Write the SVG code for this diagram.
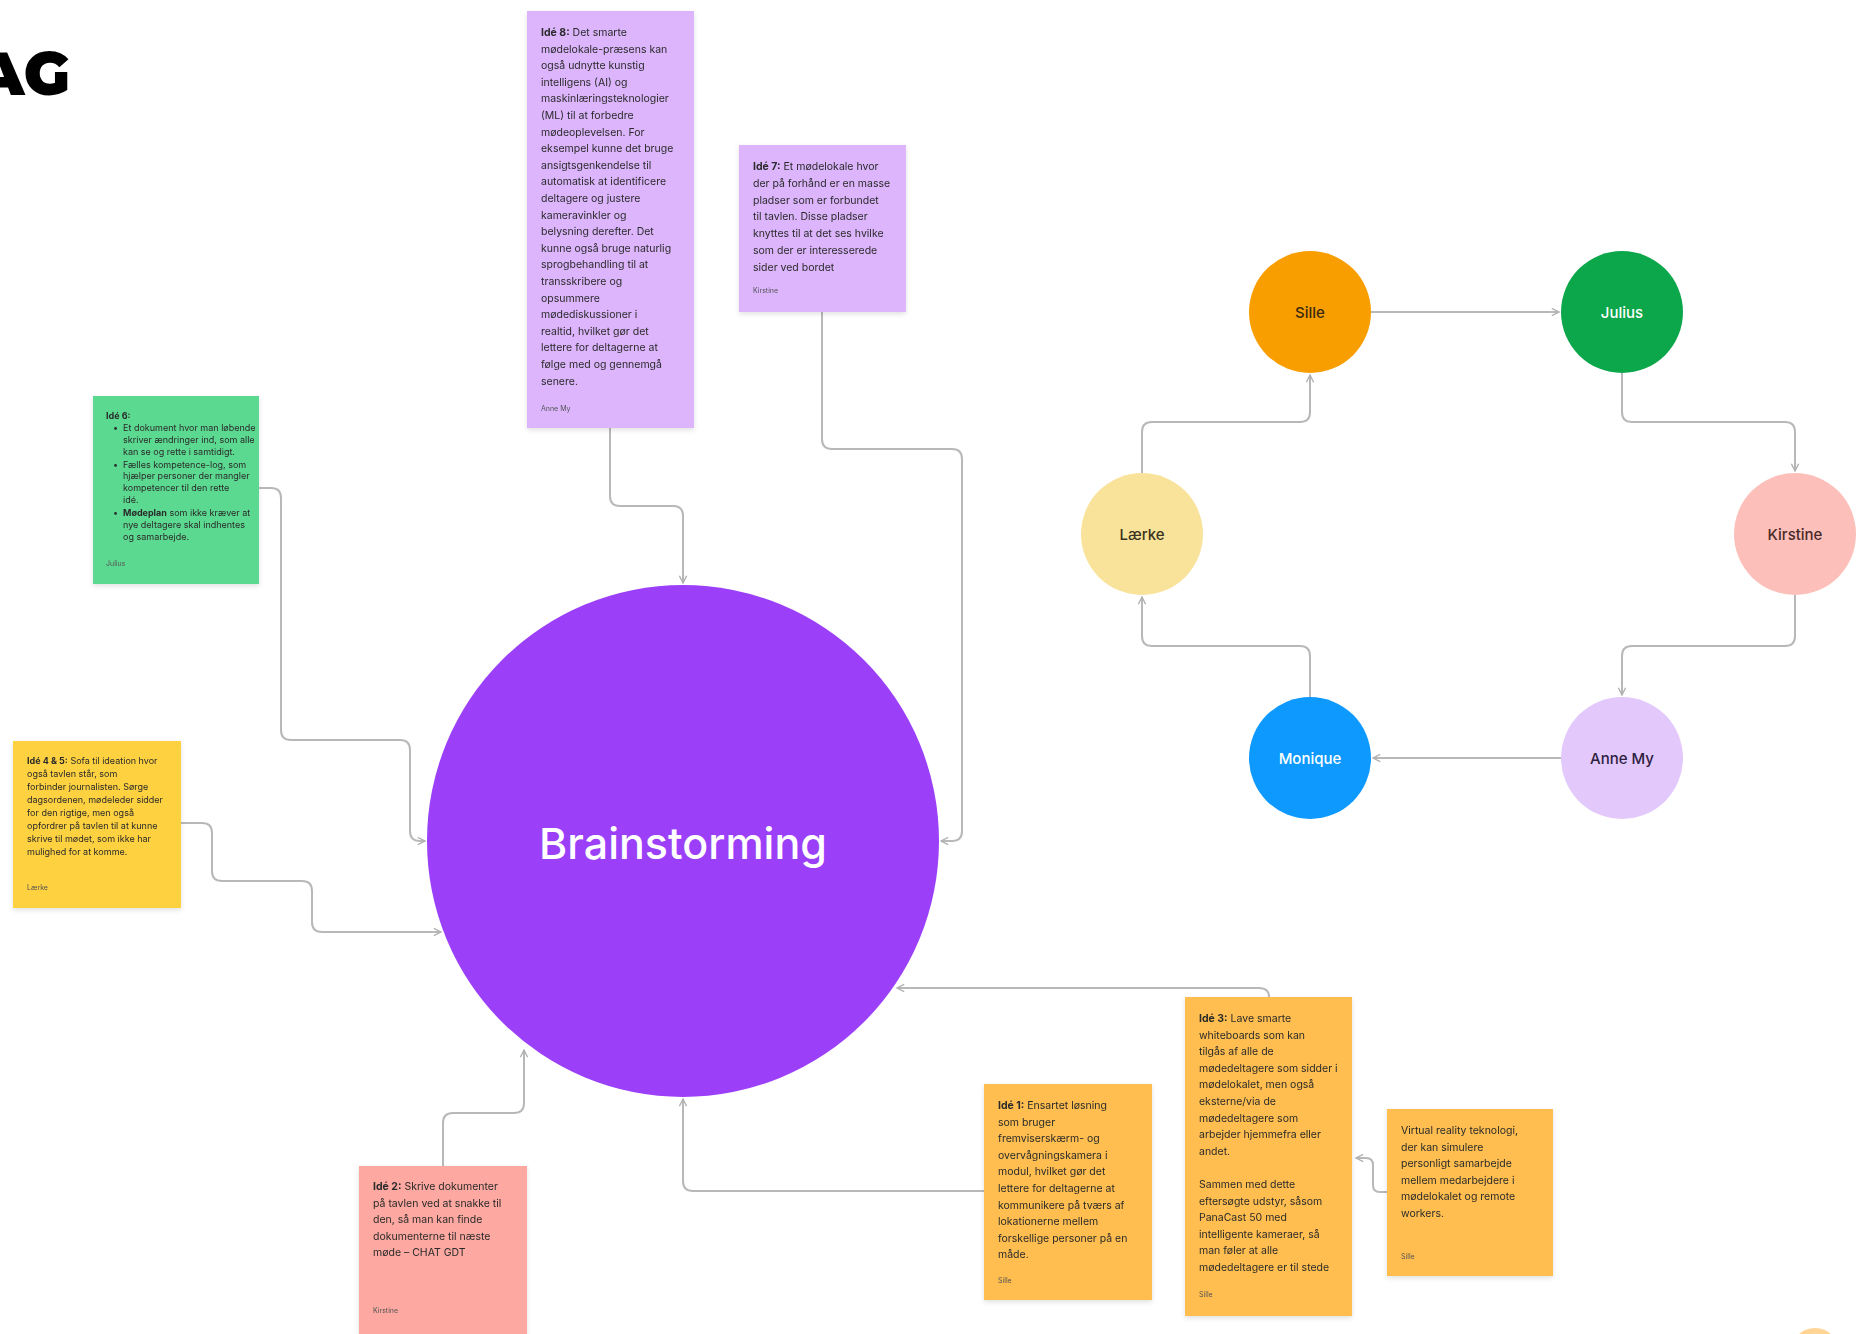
<svg xmlns="http://www.w3.org/2000/svg" width="1866" height="1334" viewBox="0 0 1866 1334">
<defs>
<marker id="arr" viewBox="0 0 10 10" refX="9" refY="5" markerWidth="9" markerHeight="9" markerUnits="userSpaceOnUse" orient="auto">
<path d="M1,1 L9,5 L1,9" fill="none" stroke="#b0b0b0" stroke-width="1.5"/>
</marker>
<filter id="sh" x="-10%" y="-10%" width="120%" height="120%">
<feDropShadow dx="0" dy="2" stdDeviation="2.5" flood-color="#000" flood-opacity="0.12"/>
</filter>
<style>
.conn{fill:none;stroke:#b8b8b8;stroke-width:2;marker-end:url(#arr)}
.note{filter:url(#sh)}
.nt{font-family:Inter,"Liberation Sans",sans-serif;font-size:10.5px;fill:#2a2a2a}
.ns{font-family:Inter,"Liberation Sans",sans-serif;font-size:9px;fill:#2a2a2a}
.b{font-weight:700}
.ft{font-family:Inter,"Liberation Sans",sans-serif;font-size:7px;fill:#555}
.cl{font-family:Inter,"Liberation Sans",sans-serif;font-size:15px;font-weight:500;text-anchor:middle;dominant-baseline:central}
</style>
</defs>
<rect width="1866" height="1334" fill="#ffffff"/>

<text x="-24" y="95" font-family="Montserrat,'Liberation Sans',sans-serif" font-weight="900" font-size="60" fill="#000">AG</text>

<g id="connectors">
<path class="conn" d="M610,428 V496 Q610,506 620,506 H673 Q683,506 683,516 V583"/>
<path class="conn" d="M822,312 V439 Q822,449 832,449 H952 Q962,449 962,459 V831 Q962,841 952,841 H941"/>
<path class="conn" d="M259,488 H271 Q281,488 281,498 V730 Q281,740 291,740 H400 Q410,740 410,750 V831 Q410,841 420,841 H425"/>
<path class="conn" d="M181,823 H202 Q212,823 212,833 V871 Q212,881 222,881 H302 Q312,881 312,891 V922 Q312,932 322,932 H441"/>
<path class="conn" d="M443,1166 V1123 Q443,1113 453,1113 H514 Q524,1113 524,1103 V1050"/>
<path class="conn" d="M984,1191 H693 Q683,1191 683,1181 V1099"/>
<path class="conn" d="M1269,997 Q1269,988 1259,988 H897"/>
<path class="conn" d="M1387,1192 H1380 Q1373,1192 1373,1185 V1165 Q1373,1158 1366,1158 H1356"/>
<path class="conn" d="M1371,312 H1559"/>
<path class="conn" d="M1622,373 V412 Q1622,422 1632,422 H1785 Q1795,422 1795,432 V471"/>
<path class="conn" d="M1795,595 V636 Q1795,646 1785,646 H1632 Q1622,646 1622,656 V695"/>
<path class="conn" d="M1561,758 H1373"/>
<path class="conn" d="M1310,697 V656 Q1310,646 1300,646 H1152 Q1142,646 1142,636 V597"/>
<path class="conn" d="M1142,473 V432 Q1142,422 1152,422 H1300 Q1310,422 1310,412 V375"/>
</g>

<g id="brainstorming">
<circle cx="683" cy="841" r="256" fill="#9b40f8"/>
<text x="683" y="843" font-family="Inter,'Liberation Sans',sans-serif" font-size="43" font-weight="500" fill="#fff" text-anchor="middle" dominant-baseline="central">Brainstorming</text>
</g>

<g id="note-ide8" class="note">
<rect x="527" y="11" width="167" height="417" fill="#dcb5fc"/>
<text class="nt">
<tspan x="541" y="36"><tspan class="b">Idé 8:</tspan> Det smarte</tspan>
<tspan x="541" dy="16.6">mødelokale-præsens kan</tspan>
<tspan x="541" dy="16.6">også udnytte kunstig</tspan>
<tspan x="541" dy="16.6">intelligens (AI) og</tspan>
<tspan x="541" dy="16.6">maskinlæringsteknologier</tspan>
<tspan x="541" dy="16.6">(ML) til at forbedre</tspan>
<tspan x="541" dy="16.6">mødeoplevelsen. For</tspan>
<tspan x="541" dy="16.6">eksempel kunne det bruge</tspan>
<tspan x="541" dy="16.6">ansigtsgenkendelse til</tspan>
<tspan x="541" dy="16.6">automatisk at identificere</tspan>
<tspan x="541" dy="16.6">deltagere og justere</tspan>
<tspan x="541" dy="16.6">kameravinkler og</tspan>
<tspan x="541" dy="16.6">belysning derefter. Det</tspan>
<tspan x="541" dy="16.6">kunne også bruge naturlig</tspan>
<tspan x="541" dy="16.6">sprogbehandling til at</tspan>
<tspan x="541" dy="16.6">transskribere og</tspan>
<tspan x="541" dy="16.6">opsummere</tspan>
<tspan x="541" dy="16.6">mødediskussioner i</tspan>
<tspan x="541" dy="16.6">realtid, hvilket gør det</tspan>
<tspan x="541" dy="16.6">lettere for deltagerne at</tspan>
<tspan x="541" dy="16.6">følge med og gennemgå</tspan>
<tspan x="541" dy="16.6">senere.</tspan>
</text>
<text class="ft" x="541" y="411">Anne My</text>
</g>

<g id="note-ide7" class="note">
<rect x="739" y="145" width="167" height="167" fill="#dcb5fc"/>
<text class="nt">
<tspan x="753" y="170"><tspan class="b">Idé 7:</tspan> Et mødelokale hvor</tspan>
<tspan x="753" dy="16.8">der på forhånd er en masse</tspan>
<tspan x="753" dy="16.8">pladser som er forbundet</tspan>
<tspan x="753" dy="16.8">til tavlen. Disse pladser</tspan>
<tspan x="753" dy="16.8">knyttes til at det ses hvilke</tspan>
<tspan x="753" dy="16.8">som der er interesserede</tspan>
<tspan x="753" dy="16.8">sider ved bordet</tspan>
</text>
<text class="ft" x="753" y="293">Kirstine</text>
</g>

<g id="note-ide6" class="note">
<rect x="93" y="396" width="166" height="188" fill="#5cd990"/>
<text class="ns">
<tspan x="106" y="419" class="b">Idé 6:</tspan>
<tspan x="113" dy="12">•</tspan><tspan x="123">Et dokument hvor man løbende</tspan>
<tspan x="123" dy="11.8">skriver ændringer ind, som alle</tspan>
<tspan x="123" dy="11.8">kan se og rette i samtidigt.</tspan>
<tspan x="113" dy="13">•</tspan><tspan x="123">Fælles kompetence-log, som</tspan>
<tspan x="123" dy="11.8">hjælper personer der mangler</tspan>
<tspan x="123" dy="11.8">kompetencer til den rette</tspan>
<tspan x="123" dy="11.8">idé.</tspan>
<tspan x="113" dy="13">•</tspan><tspan x="123"><tspan class="b">Mødeplan</tspan> som ikke kræver at</tspan>
<tspan x="123" dy="11.8">nye deltagere skal indhentes</tspan>
<tspan x="123" dy="11.8">og samarbejde.</tspan>
</text>
<text class="ft" x="106" y="566">Julius</text>
</g>

<g id="note-ide45" class="note">
<rect x="13" y="741" width="168" height="167" fill="#fdd140"/>
<text class="ns">
<tspan x="27" y="764"><tspan class="b">Idé 4 &amp; 5:</tspan> Sofa til ideation hvor</tspan>
<tspan x="27" dy="13">også tavlen står, som</tspan>
<tspan x="27" dy="13">forbinder journalisten. Sørge</tspan>
<tspan x="27" dy="13">dagsordenen, mødeleder sidder</tspan>
<tspan x="27" dy="13">for den rigtige, men også</tspan>
<tspan x="27" dy="13">opfordrer på tavlen til at kunne</tspan>
<tspan x="27" dy="13">skrive til mødet, som ikke har</tspan>
<tspan x="27" dy="13">mulighed for at komme.</tspan>
</text>
<text class="ft" x="27" y="890">Lærke</text>
</g>

<g id="note-ide2" class="note">
<rect x="359" y="1166" width="168" height="168" fill="#fda8a0"/>
<text class="nt">
<tspan x="373" y="1190"><tspan class="b">Idé 2:</tspan> Skrive dokumenter</tspan>
<tspan x="373" dy="16.6">på tavlen ved at snakke til</tspan>
<tspan x="373" dy="16.6">den, så man kan finde</tspan>
<tspan x="373" dy="16.6">dokumenterne til næste</tspan>
<tspan x="373" dy="16.6">møde – CHAT GDT</tspan>
</text>
<text class="ft" x="373" y="1313">Kirstine</text>
</g>

<g id="note-ide1" class="note">
<rect x="984" y="1084" width="168" height="216" fill="#ffbe4f"/>
<text class="nt">
<tspan x="998" y="1109"><tspan class="b">Idé 1:</tspan> Ensartet løsning</tspan>
<tspan x="998" dy="16.6">som bruger</tspan>
<tspan x="998" dy="16.6">fremviserskærm- og</tspan>
<tspan x="998" dy="16.6">overvågningskamera i</tspan>
<tspan x="998" dy="16.6">modul, hvilket gør det</tspan>
<tspan x="998" dy="16.6">lettere for deltagerne at</tspan>
<tspan x="998" dy="16.6">kommunikere på tværs af</tspan>
<tspan x="998" dy="16.6">lokationerne mellem</tspan>
<tspan x="998" dy="16.6">forskellige personer på en</tspan>
<tspan x="998" dy="16.6">måde.</tspan>
</text>
<text class="ft" x="998" y="1283">Sille</text>
</g>

<g id="note-ide3" class="note">
<rect x="1185" y="997" width="167" height="319" fill="#ffbe4f"/>
<text class="nt">
<tspan x="1199" y="1022"><tspan class="b">Idé 3:</tspan> Lave smarte</tspan>
<tspan x="1199" dy="16.6">whiteboards som kan</tspan>
<tspan x="1199" dy="16.6">tilgås af alle de</tspan>
<tspan x="1199" dy="16.6">mødedeltagere som sidder i</tspan>
<tspan x="1199" dy="16.6">mødelokalet, men også</tspan>
<tspan x="1199" dy="16.6">eksterne/via de</tspan>
<tspan x="1199" dy="16.6">mødedeltagere som</tspan>
<tspan x="1199" dy="16.6">arbejder hjemmefra eller</tspan>
<tspan x="1199" dy="16.6">andet.</tspan>
<tspan x="1199" dy="33.2">Sammen med dette</tspan>
<tspan x="1199" dy="16.6">eftersøgte udstyr, såsom</tspan>
<tspan x="1199" dy="16.6">PanaCast 50 med</tspan>
<tspan x="1199" dy="16.6">intelligente kameraer, så</tspan>
<tspan x="1199" dy="16.6">man føler at alle</tspan>
<tspan x="1199" dy="16.6">mødedeltagere er til stede</tspan>
</text>
<text class="ft" x="1199" y="1297">Sille</text>
</g>

<g id="note-vr" class="note">
<rect x="1387" y="1109" width="166" height="167" fill="#ffbe4f"/>
<text class="nt">
<tspan x="1401" y="1134">Virtual reality teknologi,</tspan>
<tspan x="1401" dy="16.6">der kan simulere</tspan>
<tspan x="1401" dy="16.6">personligt samarbejde</tspan>
<tspan x="1401" dy="16.6">mellem medarbejdere i</tspan>
<tspan x="1401" dy="16.6">mødelokalet og remote</tspan>
<tspan x="1401" dy="16.6">workers.</tspan>
</text>
<text class="ft" x="1401" y="1259">Sille</text>
</g>

<g id="sille"><circle cx="1310" cy="312" r="61" fill="#f89e00"/><text class="cl" x="1310" y="312" fill="#3a2a10">Sille</text></g>
<g id="julius"><circle cx="1622" cy="312" r="61" fill="#0ca64b"/><text class="cl" x="1622" y="312" fill="#ffffff">Julius</text></g>
<g id="laerke"><circle cx="1142" cy="534" r="61" fill="#f9e39b"/><text class="cl" x="1142" y="534" fill="#3a3320">Lærke</text></g>
<g id="kirstine"><circle cx="1795" cy="534" r="61" fill="#fcbfb9"/><text class="cl" x="1795" y="534" fill="#4a2a28">Kirstine</text></g>
<g id="monique"><circle cx="1310" cy="758" r="61" fill="#0d99fe"/><text class="cl" x="1310" y="758" fill="#ffffff">Monique</text></g>
<g id="annemy"><circle cx="1622" cy="758" r="61" fill="#e3c9fb"/><text class="cl" x="1622" y="758" fill="#2d2040">Anne My</text></g>

<circle cx="1815" cy="1352" r="24" fill="#ffb84d" opacity="0.6"/>
</svg>
